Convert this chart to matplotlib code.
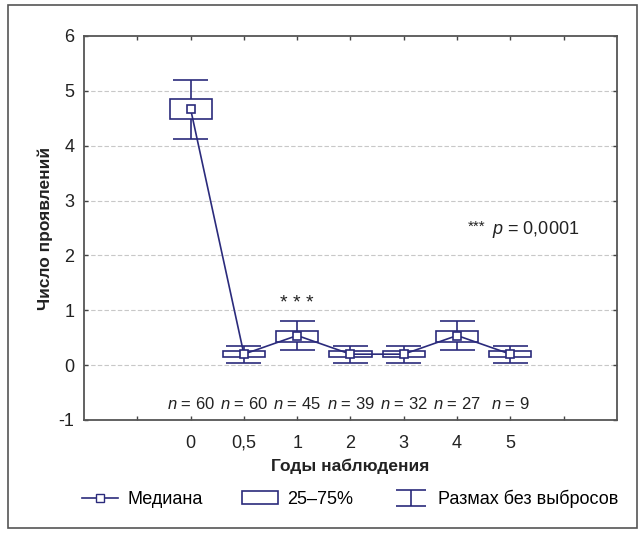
import numpy as np
import matplotlib
matplotlib.use("Agg")
import matplotlib.pyplot as plt
from matplotlib.lines import Line2D
from matplotlib.patches import Rectangle
from matplotlib.path import Path

plt.rcParams['font.family'] = ['Liberation Sans', 'DejaVu Sans']
plt.rcParams['mathtext.fontset'] = 'custom'
plt.rcParams['mathtext.it'] = 'Liberation Sans:italic'
plt.rcParams['mathtext.rm'] = 'Liberation Sans'

# data
years = ['0', '0,5', '1', '2', '3', '4', '5']
n_obs = [60, 60, 45, 39, 32, 27, 9]
median = [4.67, 0.20, 0.54, 0.20, 0.20, 0.54, 0.20]
q25 = [4.48, 0.145, 0.43, 0.145, 0.145, 0.43, 0.145]
q75 = [4.85, 0.255, 0.62, 0.255, 0.255, 0.62, 0.255]
wmin = [4.12, 0.03, 0.27, 0.03, 0.03, 0.27, 0.03]
wmax = [5.20, 0.35, 0.81, 0.35, 0.35, 0.81, 0.35]

navy = '#2b2b7c'
txt = '#222222'
pos = np.arange(len(years)) + 2

fig = plt.figure(figsize=(6.43, 5.34), dpi=100)
ax = fig.add_axes([0.1306, 0.2135, 0.829, 0.7191])

# outer frame
fig.patches.append(Rectangle((0.013, 0.011), 0.977, 0.98, transform=fig.transFigure,
                             fill=False, edgecolor='#555555', linewidth=1.2))

# grid
for yv in range(0, 6):
    ax.axhline(yv, color='#c8c8c8', linestyle=(0, (4, 2)), linewidth=0.8, zorder=0)

# whiskers
ax.vlines(pos, wmin, q25, color=navy, linewidth=1.2, zorder=2)
ax.vlines(pos, q75, wmax, color=navy, linewidth=1.2, zorder=2)
ax.hlines(wmin, pos - 0.33, pos + 0.33, color=navy, linewidth=1.2, zorder=2)
ax.hlines(wmax, pos - 0.33, pos + 0.33, color=navy, linewidth=1.2, zorder=2)

# boxes
ax.bar(pos, np.array(q75) - np.array(q25), bottom=q25, width=0.79,
       facecolor='white', edgecolor=navy, linewidth=1.2, zorder=2)

# medians
ax.plot(pos, median, color=navy, linewidth=1.2, marker='s', markersize=6,
        markerfacecolor='white', markeredgecolor=navy, markeredgewidth=1.2, zorder=3)

# n labels
for p, n in zip(pos, n_obs):
    ax.text(p, -0.7, r'$n$ = %d' % n, ha='center', va='center', fontsize=12, color=txt)

ax.text(pos[2], 1.13, '* * *', ha='center', va='center', fontsize=14, color=txt)
ax.text(7.2, 2.53, '***', ha='left', va='center', fontsize=11, color=txt)
ax.text(7.66, 2.47, r'$p$ = 0,0001', ha='left', va='center', fontsize=13, color=txt)

ax.set_xlim(0, 10)
ax.set_ylim(-1, 6)
ax.set_xticks(np.arange(1, 10))
ax.set_xticklabels([''] + years + [''])
ax.set_yticks(np.arange(-1, 7))
ax.set_yticklabels([str(v) if v >= 0 else '-1' for v in range(-1, 7)])
ax.tick_params(direction='in', length=3, width=1, top=True, right=True,
               colors='#444444', labelcolor=txt, labelsize=13)
ax.tick_params(axis='x', pad=20)
ax.tick_params(axis='y', pad=7)
for lab in ax.get_xticklabels():
    lab.set_verticalalignment('baseline')
for s in ax.spines.values():
    s.set_color('#555555')
    s.set_linewidth(1.3)

ax.set_xlabel('Годы наблюдения', fontsize=12.5, fontweight='bold', labelpad=5, color=txt)
ax.set_ylabel('Число проявлений', fontsize=12.5, fontweight='bold', labelpad=4, color=txt)

# legend
cap = Path([(-1, 0.5), (1, 0.5), (0, 0.5), (0, -0.5), (-1, -0.5), (1, -0.5)],
           [Path.MOVETO, Path.LINETO, Path.MOVETO, Path.LINETO, Path.MOVETO, Path.LINETO])
h_med = Line2D([], [], color=navy, linewidth=1.2, marker='s', markersize=6,
               markerfacecolor='white', markeredgecolor=navy)
h_box = Rectangle((0, 0), 1, 1, facecolor='white', edgecolor=navy, linewidth=1.2)
h_rng = Line2D([], [], linestyle='none', marker=cap, markersize=22,
               markeredgecolor=navy, markeredgewidth=1.2, color=navy)
fig.legend([h_med, h_box, h_rng], ['Медиана', '25–75%', 'Размах без выбросов'],
           loc='center', bbox_to_anchor=(0.545, 0.066), ncol=3, frameon=False,
           fontsize=13, handlelength=2.0, handletextpad=0.5, columnspacing=2.2)

fig.savefig('out.png', dpi=100)
